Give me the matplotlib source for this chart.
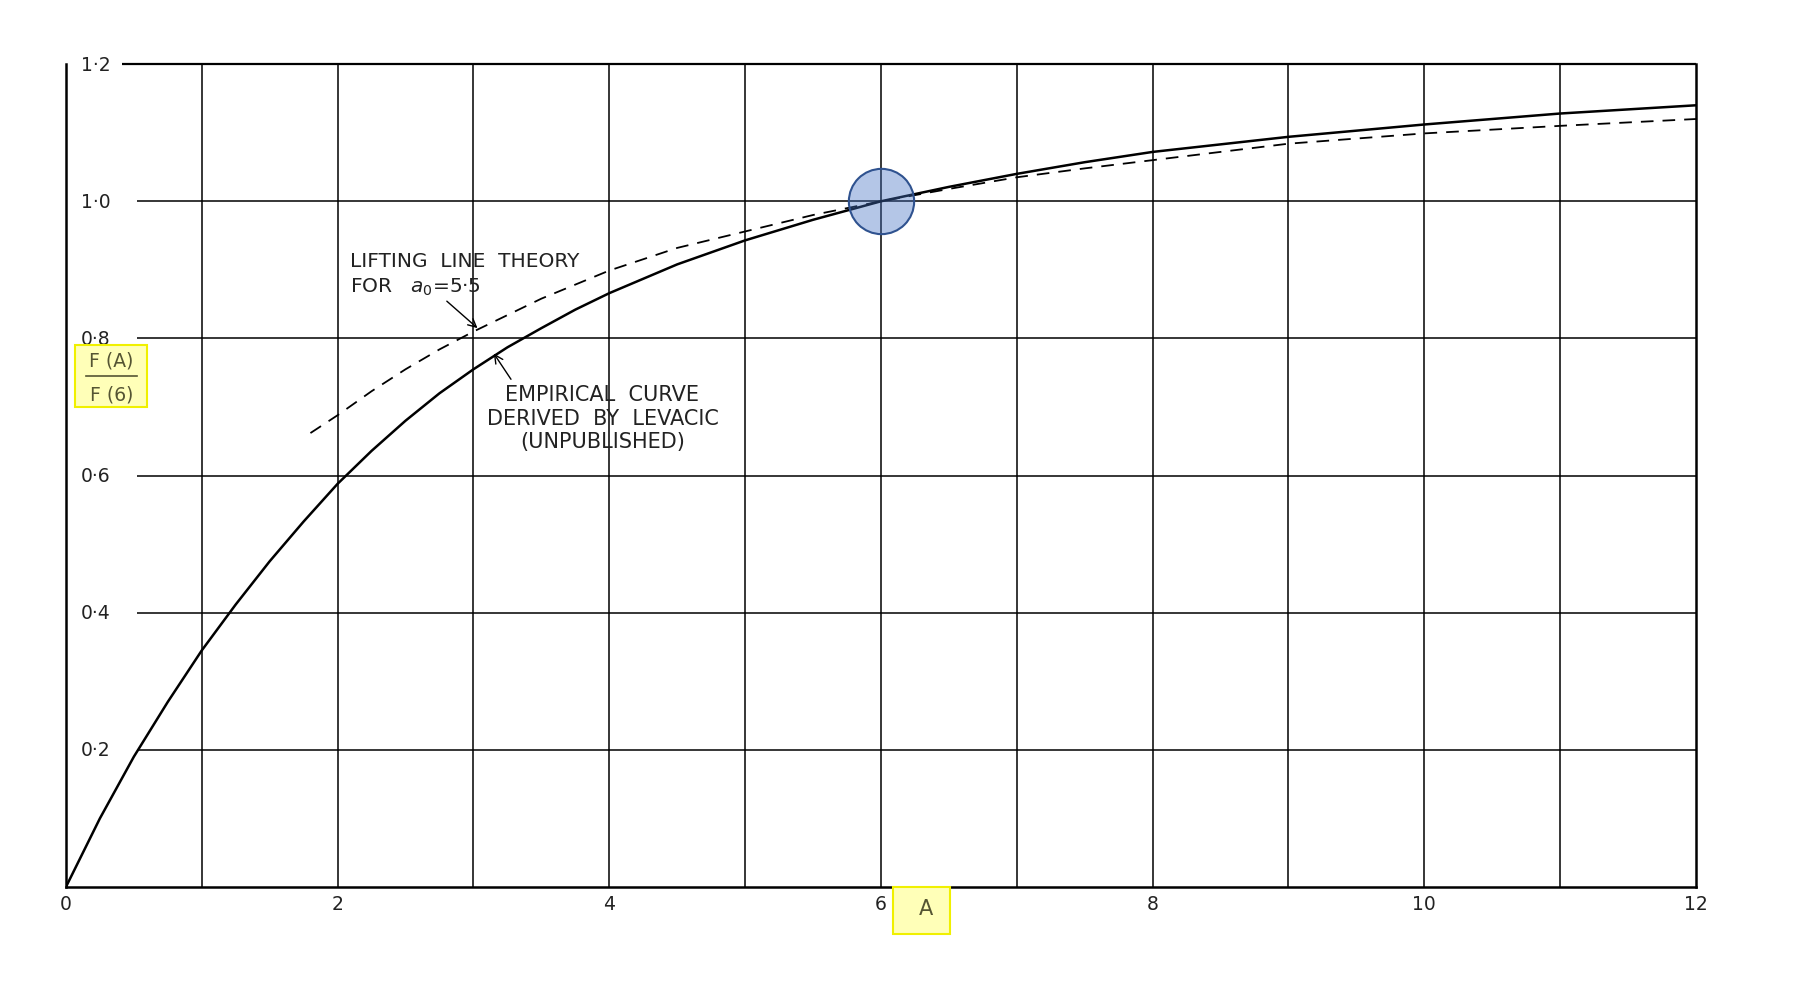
import matplotlib.pyplot as plt
from matplotlib.patches import Rectangle

# empirical curve (Levacic)
emp_A = [0, 0.25, 0.5, 0.75, 1, 1.25, 1.5, 1.75, 2, 2.25, 2.5, 2.75, 3, 3.25, 3.5, 3.75, 4,
         4.5, 5, 5.5, 6, 6.5, 7, 7.5, 8, 9, 10, 11, 12]
emp_F = [0, 0.10, 0.19, 0.27, 0.345, 0.412, 0.475, 0.533, 0.588, 0.636, 0.68, 0.72, 0.755,
         0.787, 0.815, 0.842, 0.866, 0.908, 0.943, 0.973, 1.0, 1.021, 1.040, 1.057, 1.072,
         1.094, 1.112, 1.128, 1.140]

# lifting line theory, a0 = 5.5
llt_A = [1.8, 2, 2.25, 2.5, 2.75, 3, 3.5, 4, 4.5, 5, 5.5, 6, 6.5, 7, 7.5, 8, 9, 10, 11, 12]
llt_F = [0.662, 0.688, 0.723, 0.755, 0.784, 0.81, 0.858, 0.899, 0.932, 0.956, 0.98, 1.0,
         1.018, 1.035, 1.048, 1.060, 1.084, 1.099, 1.110, 1.120]

x_ticks = [0, 2, 4, 6, 8, 10, 12]
x_labels = ['0', '2', '4', '6', '8', '10', '12']
y_ticks = [0.2, 0.4, 0.6, 0.8, 1.0, 1.2]
y_labels = ['0·2', '0·4', '0·6', '0·8', '1·0', '1·2']

fig = plt.figure(figsize=(18.11, 9.87), dpi=100)
ax = fig.add_axes([0.0364, 0.1003, 0.9001, 0.8337])
ax.set_xlim(0, 12)
ax.set_ylim(0, 1.2)

# grid drawn by hand so the horizontal lines leave room for the labels
for xv in range(1, 12):
    ax.axvline(xv, color='black', lw=1.1, zorder=1)
for yv in y_ticks[:-1]:
    ax.hlines(yv, 0.52, 12, color='black', lw=1.1, zorder=1)
ax.hlines(1.2, 0.41, 12, color='black', lw=1.6, zorder=1, clip_on=False)

for sp in ['left', 'bottom', 'right']:
    ax.spines[sp].set_linewidth(1.8)
ax.spines['top'].set_visible(False)

ax.set_yticks([])
for yv, lab in zip(y_ticks, y_labels):
    ax.text(0.22, yv, lab, ha='center', va='center', fontsize=13.5, color='#222222')

ax.set_xticks(x_ticks)
ax.set_xticklabels(x_labels, fontsize=13.5, color='#222222')
ax.tick_params(axis='x', length=0, pad=5)

ax.plot(emp_A, emp_F, color='black', lw=1.8, zorder=3)
ax.plot(llt_A, llt_F, color='black', lw=1.3, ls=(0, (7, 5)), zorder=3)

ax.annotate('LIFTING  LINE  THEORY\nFOR   $a_0$=5·5', xy=(3.03, 0.815), xytext=(2.09, 0.928),
            fontsize=14.5, ha='left', va='top', color='#222222', linespacing=1.35,
            arrowprops=dict(arrowstyle='->', color='black', lw=1.0,
                            relpos=(0.4, 0.0), shrinkA=2, shrinkB=0))
ax.annotate('EMPIRICAL  CURVE\nDERIVED  BY  LEVACIC\n(UNPUBLISHED)', xy=(3.15, 0.778),
            xytext=(3.95, 0.733), fontsize=15, ha='center', va='top', color='#222222',
            linespacing=1.2, multialignment='center',
            arrowprops=dict(arrowstyle='->', color='black', lw=1.0,
                            relpos=(0.12, 1.0), shrinkA=2, shrinkB=0))

# highlighted y-axis label F(A)/F(6)
ax.add_patch(Rectangle((0.07, 0.70), 0.53, 0.09, facecolor='#ffffb8', edgecolor='#f0f000',
                       lw=1.5, zorder=4))
ax.text(0.335, 0.768, 'F (A)', ha='center', va='center', fontsize=13.5, color='#555533', zorder=5)
ax.plot([0.15, 0.52], [0.745, 0.745], color='#555533', lw=1.2, zorder=5)
ax.text(0.335, 0.719, 'F (6)', ha='center', va='center', fontsize=13.5, color='#555533', zorder=5)

# highlighted x-axis label A
ax.add_patch(Rectangle((6.09, -0.068), 0.42, 0.068, facecolor='#ffffb8', edgecolor='#f0f000',
                       lw=1.5, zorder=4, clip_on=False))
ax.text(6.33, -0.031, 'A', ha='center', va='center', fontsize=15, color='#555533',
        clip_on=False, zorder=5)

# blue marker at the normalising point
ax.plot([6], [1.0], marker='o', ms=47, mfc=(0.267, 0.447, 0.769, 0.4), mec='#2F528F',
        mew=1.5, zorder=6, clip_on=False)

fig.savefig('out.png', dpi=100)
